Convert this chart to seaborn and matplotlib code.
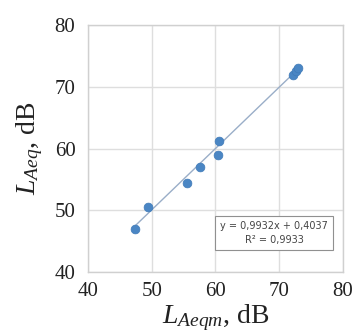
import matplotlib
matplotlib.use("Agg")
import matplotlib.pyplot as plt
import seaborn as sns
import numpy as np
import pandas as pd

# data
x_meas = [47.4, 49.5, 55.5, 57.6, 60.4, 60.5, 72.2, 72.6, 72.9]
y_calc = [47.0, 50.6, 54.5, 57.0, 59.0, 61.2, 72.0, 72.5, 73.1]
slope = 0.9932
intercept = 0.4037
r2 = 0.9933
ticks = [40, 50, 60, 70, 80]

sns.set_theme(style="whitegrid")
plt.rcParams['font.family'] = ['Liberation Serif', 'DejaVu Serif']
plt.rcParams['mathtext.fontset'] = 'custom'
plt.rcParams['mathtext.it'] = 'Liberation Serif:italic'
plt.rcParams['mathtext.rm'] = 'Liberation Serif'

fig = plt.figure(figsize=(3.56, 3.35), dpi=100)
ax = fig.add_axes([0.247, 0.188, 0.716, 0.737])

df = pd.DataFrame({"x": x_meas, "y": y_calc})
xl = np.array([min(x_meas), max(x_meas)])
fit = pd.DataFrame({"x": xl, "y": slope * xl + intercept})
sns.lineplot(data=fit, x="x", y="y", ax=ax, color="#9aaec8", linewidth=1.0)
sns.scatterplot(data=df, x="x", y="y", ax=ax, color="#4a86c4", s=40,
                edgecolor="#3f7ab8", linewidth=0.5, zorder=3)

ax.set_xlim(40, 80)
ax.set_ylim(40, 80)
ax.set_xticks(ticks)
ax.set_yticks(ticks)
ax.tick_params(axis='both', labelsize=15, length=0, colors="#222222")
ax.tick_params(axis='x', pad=7)
ax.tick_params(axis='y', pad=9)
for s in ax.spines.values():
    s.set_color("#d0d0d0")
    s.set_linewidth(1.0)
ax.grid(True, color="#dedede", linewidth=1.0)

ax.set_xlabel(r"$L_{Aeqm}$, dB", fontsize=20, labelpad=1, color="#222222")
ax.set_ylabel(r"$L_{Aeq}$, dB", fontsize=20, labelpad=7, color="#222222")

txt = "y = {:.4f}x + {:.4f}\nR² = {:.4f}".format(slope, intercept, r2).replace(".", ",")
ax.text(0.73, 0.158, txt, transform=ax.transAxes, ha="center", va="center",
        fontsize=7, family="DejaVu Sans", color="#444444", linespacing=1.6,
        bbox=dict(boxstyle="square,pad=0.5", fc="white", ec="#909090", lw=0.8))

fig.savefig("out.png", dpi=100)
